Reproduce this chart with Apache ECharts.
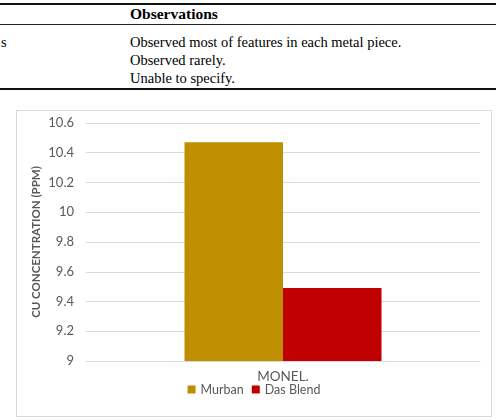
<!DOCTYPE html>
<html>
<head>
<meta charset="utf-8">
<script src="https://cdn.jsdelivr.net/npm/echarts@6/dist/echarts.min.js"></script>
<style>
  body { margin: 0; background: #fff; width: 496px; height: 420px; position: relative; overflow: hidden; }
  .tbl { position: absolute; left: 0; top: 0; width: 496px; font-family: "Liberation Serif", serif; font-size: 14.5px; color: #000; }
  .tbl .top { position: absolute; left: 0; top: 3px; width: 496px; height: 2px; background: #111; }
  .tbl .mid { position: absolute; left: 0; top: 24px; width: 496px; height: 1px; background: #222; }
  .tbl .bot { position: absolute; left: 0; top: 88px; width: 496px; height: 2px; background: #111; }
  .tbl span { position: absolute; white-space: nowrap; line-height: 16px; }
  #chart { position: absolute; left: 16px; top: 110px; width: 474px; height: 305px; border: 1px solid #d9d9d9; }
</style>
</head>
<body>
<div class="tbl">
  <div class="top"></div>
  <span style="left:130px; top:6px; font-weight:bold; font-size:15.5px;">Observations</span>
  <div class="mid"></div>
  <span style="left:1px; top:34px;">s</span>
  <span style="left:130px; top:34px;">Observed most of features in each metal piece.</span>
  <span style="left:130px; top:52px;">Observed rarely.</span>
  <span style="left:130px; top:70px;">Unable to specify.</span>
  <div class="bot"></div>
</div>
<div id="chart"></div>
<script>
const categories = ['MONEL.'];
const murban = [10.47];
const dasBlend = [9.49];

const chart = echarts.init(document.getElementById('chart'));
const font = 'Lato, "Open Sans", sans-serif';

chart.setOption({
  animation: false,
  color: ['#BF8F00', '#C00000'],
  textStyle: { fontFamily: font },
  grid: { left: 69, right: 11, top: 12, bottom: 55 },
  legend: {
    bottom: 15,
    left: 'center',
    itemWidth: 8,
    itemHeight: 8,
    itemGap: 8,
    icon: 'rect',
    textStyle: { color: '#595959', fontSize: 12.5, fontFamily: font },
    data: ['Murban', 'Das Blend']
  },
  xAxis: {
    type: 'category',
    data: categories,
    axisLine: { lineStyle: { color: '#d9d9d9' } },
    axisTick: { show: false },
    axisLabel: { color: '#595959', fontSize: 13.5, margin: 9, fontFamily: font }
  },
  yAxis: {
    type: 'value',
    min: 9,
    max: 10.6,
    interval: 0.2,
    name: 'CU CONCENTRATION (PPM)',
    nameLocation: 'middle',
    nameGap: 44,
    nameMoveOverlap: false,
    nameTextStyle: { color: '#595959', fontSize: 11.5, fontWeight: 'bold', fontFamily: font },
    axisLine: { show: false },
    axisTick: { show: false },
    axisLabel: { color: '#595959', fontSize: 13, margin: 12, fontFamily: font },
    splitLine: { lineStyle: { color: '#d9d9d9' } }
  },
  series: [
    { name: 'Murban', type: 'bar', data: murban, barGap: '0%', barCategoryGap: '50%' },
    { name: 'Das Blend', type: 'bar', data: dasBlend, barGap: '0%', barCategoryGap: '50%' }
  ]
});
</script>
</body>
</html>
